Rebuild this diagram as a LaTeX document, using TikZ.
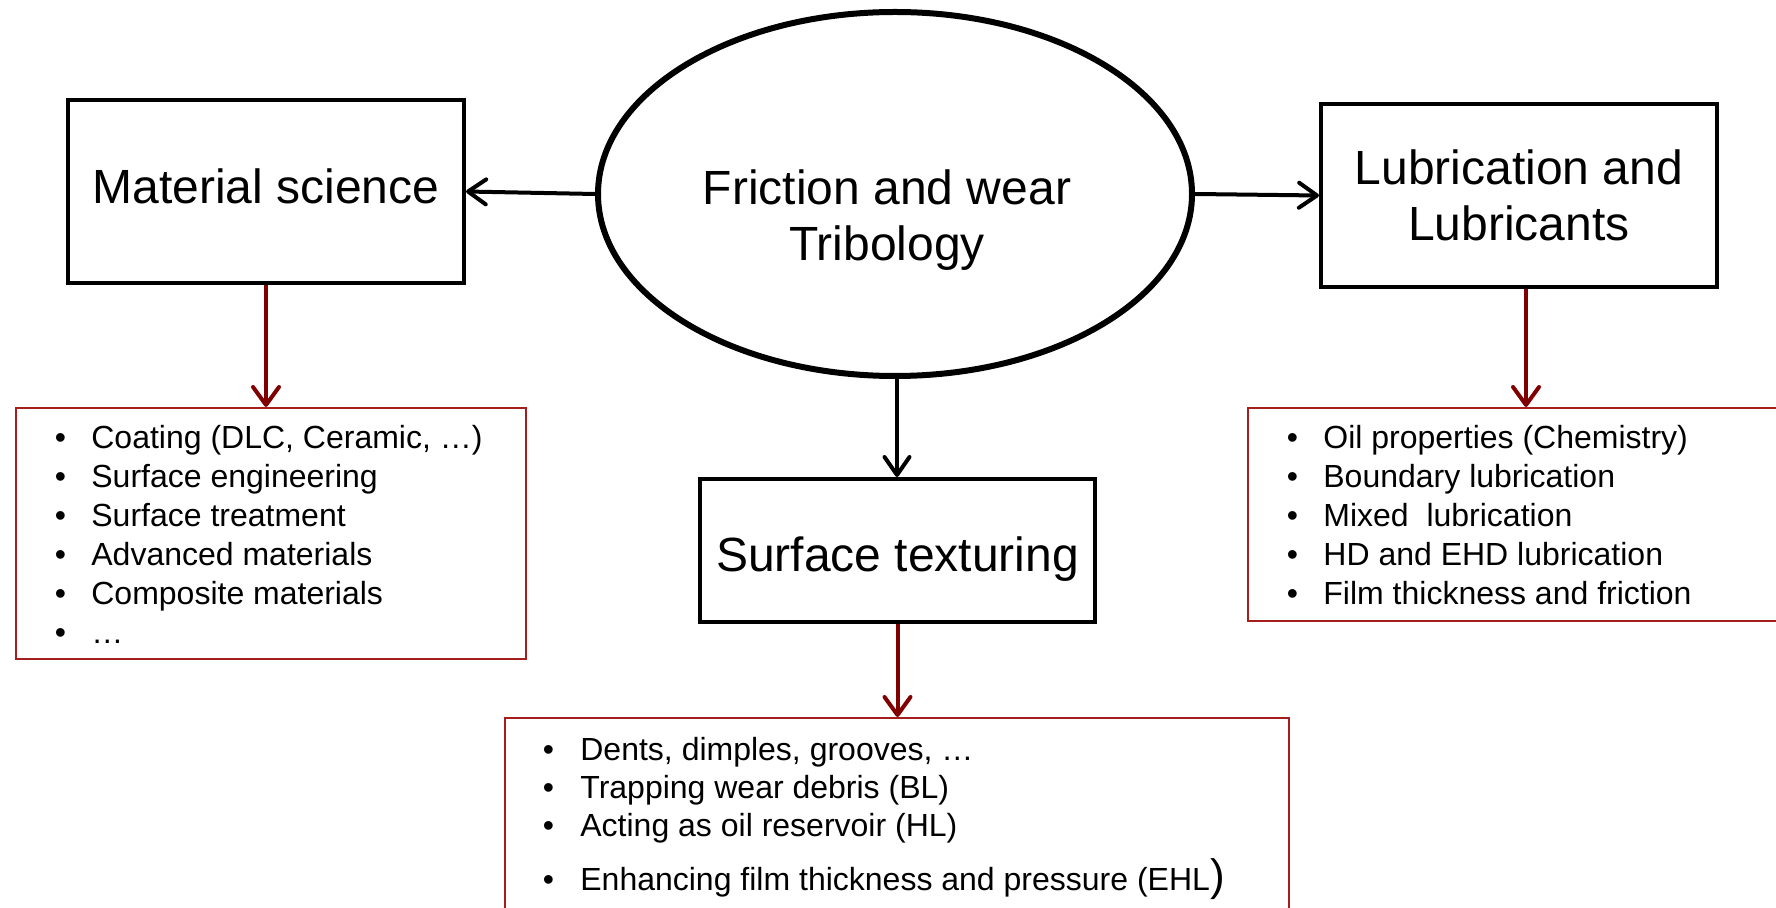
\documentclass[tikz,border=0pt]{standalone}
\usepackage{fontspec}
\setmainfont{Liberation Sans}
\usetikzlibrary{shapes.geometric,arrows.meta}
\definecolor{arrowred}{RGB}{128,0,0}
\definecolor{listred}{RGB}{165,30,30}

\begin{document}
\begin{tikzpicture}[x=0.5pt,y=-0.5pt,
  topic/.style={draw=black, line width=2pt, rectangle, inner sep=0pt, align=center,
    font=\fontsize{24}{28}\selectfont},
  hub/.style={draw=black, line width=3pt, ellipse, inner sep=0pt,
    minimum width=297pt, minimum height=182pt},
  hubtext/.style={align=center, inner sep=0pt, font=\fontsize{24}{28}\selectfont},
  listbox/.style={draw=listred, line width=1pt, rectangle, inner sep=0pt},
  item/.style={anchor=base west, inner sep=0pt, font=\fontsize{16}{19}\selectfont},
  link/.style={draw=black, line width=2pt, -{Straight Barb[length=9pt,width=12.5pt,round]}},
  sublink/.style={draw=arrowred, line width=2pt, -{Straight Barb[length=9pt,width=13pt,round]}},
]
\newcommand{\bul}{\makebox[18.3pt][l]{\textbullet}}
\useasboundingbox (0,0) rectangle (1776,908);
\clip (0,0) rectangle (1776,908);

% central topic and the three branches
\node[hub, label={[hubtext, xshift=-4pt, yshift=-13pt]center:Friction and wear\\Tribology}] (hub) at (895,194) {};
\node[topic, minimum width=198pt, minimum height=91.5pt, text height=12.5pt, text depth=0pt] (ms) at (266,191.5) {Material science};
\node[topic, minimum width=198pt, minimum height=91.5pt] (lub) at (1519,195.5) {Lubrication and\\Lubricants};
\node[topic, minimum width=197.5pt, minimum height=71.5pt, text height=21pt, text depth=0pt] (st) at (897.5,550.5) {Surface texturing};

% detail boxes
\node[listbox, minimum width=255pt, minimum height=125.5pt] (msl) at (271,533.5) {};
\node[listbox, minimum width=280pt, minimum height=106.5pt] (lubl) at (1528,514.5) {};
\node[listbox, minimum width=392pt, minimum height=106pt] (stl) at (897,824) {};

% connectors
\draw[link] (hub.west) -- (ms.east);
\draw[link] (hub.east) -- (lub.west);
\draw[link] ([xshift=1pt]hub.south) -- ([xshift=1pt]hub.south |- st.north);
\draw[sublink] (ms.south) -- (ms.south |- msl.north);
\draw[sublink] ([xshift=3.5pt]lub.south) -- ([xshift=3.5pt]lub.south |- lubl.north);
\draw[sublink] (st.south) -- (st.south |- stl.north);

% material science items
\foreach \t [count=\i] in {{Coating (DLC, Ceramic, …)},{Surface engineering},{Surface treatment},
  {Advanced materials},{Composite materials},{…}}
  \node[item] (msi\i) at (54.4,{449+38.8*(\i-1)}) {\bul\t};

% lubrication items
\foreach \t [count=\i] in {{Oil properties (Chemistry)},{Boundary lubrication},{Mixed\ \ lubrication},
  {HD and EHD lubrication},{Film thickness and friction}}
  \node[item] (lubi\i) at (1286.4,{449+38.8*(\i-1)}) {\bul\t};

% surface texturing items
\node[item] (sti1) at (542.4,760) {\makebox[18.8pt][l]{\textbullet}Dents, dimples, grooves, …};
\node[item] (sti2) at (542.4,798) {\makebox[18.8pt][l]{\textbullet}Trapping wear debris (BL)};
\node[item] (sti3) at (542.4,836) {\makebox[18.8pt][l]{\textbullet}Acting as oil reservoir (HL)};
\node[item] (sti4) at (542.4,890) {\makebox[18.8pt][l]{\textbullet}Enhancing film thickness and pressure (EHL{\fontsize{22}{26}\selectfont )}};
\end{tikzpicture}
\end{document}
